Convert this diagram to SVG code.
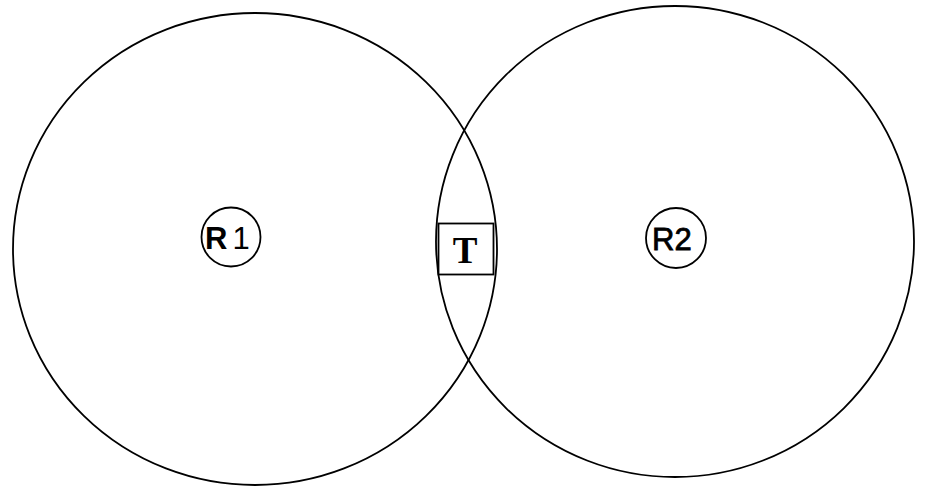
<svg xmlns="http://www.w3.org/2000/svg" width="926" height="488" viewBox="0 0 926 488">
<style>
.c{fill:none;stroke:#000;stroke-width:1.8}
.s{fill:#fff;stroke:#000;stroke-width:1.8}
.lbl{font-family:"Liberation Sans",Arial,sans-serif;font-size:31px;fill:#000}
.t{font-family:"Liberation Serif","Times New Roman",serif;font-size:37px;font-weight:bold;fill:#000}
</style>
<rect width="926" height="488" fill="#fff"/>
<g id="range1"><ellipse class="c" cx="255" cy="249" rx="242" ry="236"/></g>
<g id="range2"><ellipse class="c" cx="675" cy="241.5" rx="239" ry="235.5"/></g>
<g id="R1"><circle class="s" cx="231" cy="237" r="29.5"/><text class="lbl" x="205" y="249"><tspan font-weight="bold">R</tspan><tspan dx="5">1</tspan></text></g>
<g id="R2"><circle class="s" cx="676" cy="238" r="30"/><text class="lbl" x="652" y="250" stroke="#000" stroke-width="0.8">R2</text></g>
<g id="T"><rect class="s" x="438.5" y="223.5" width="55" height="51"/><text class="t" x="465" y="263" text-anchor="middle">T</text></g>
<g id="connectors"></g>
</svg>
